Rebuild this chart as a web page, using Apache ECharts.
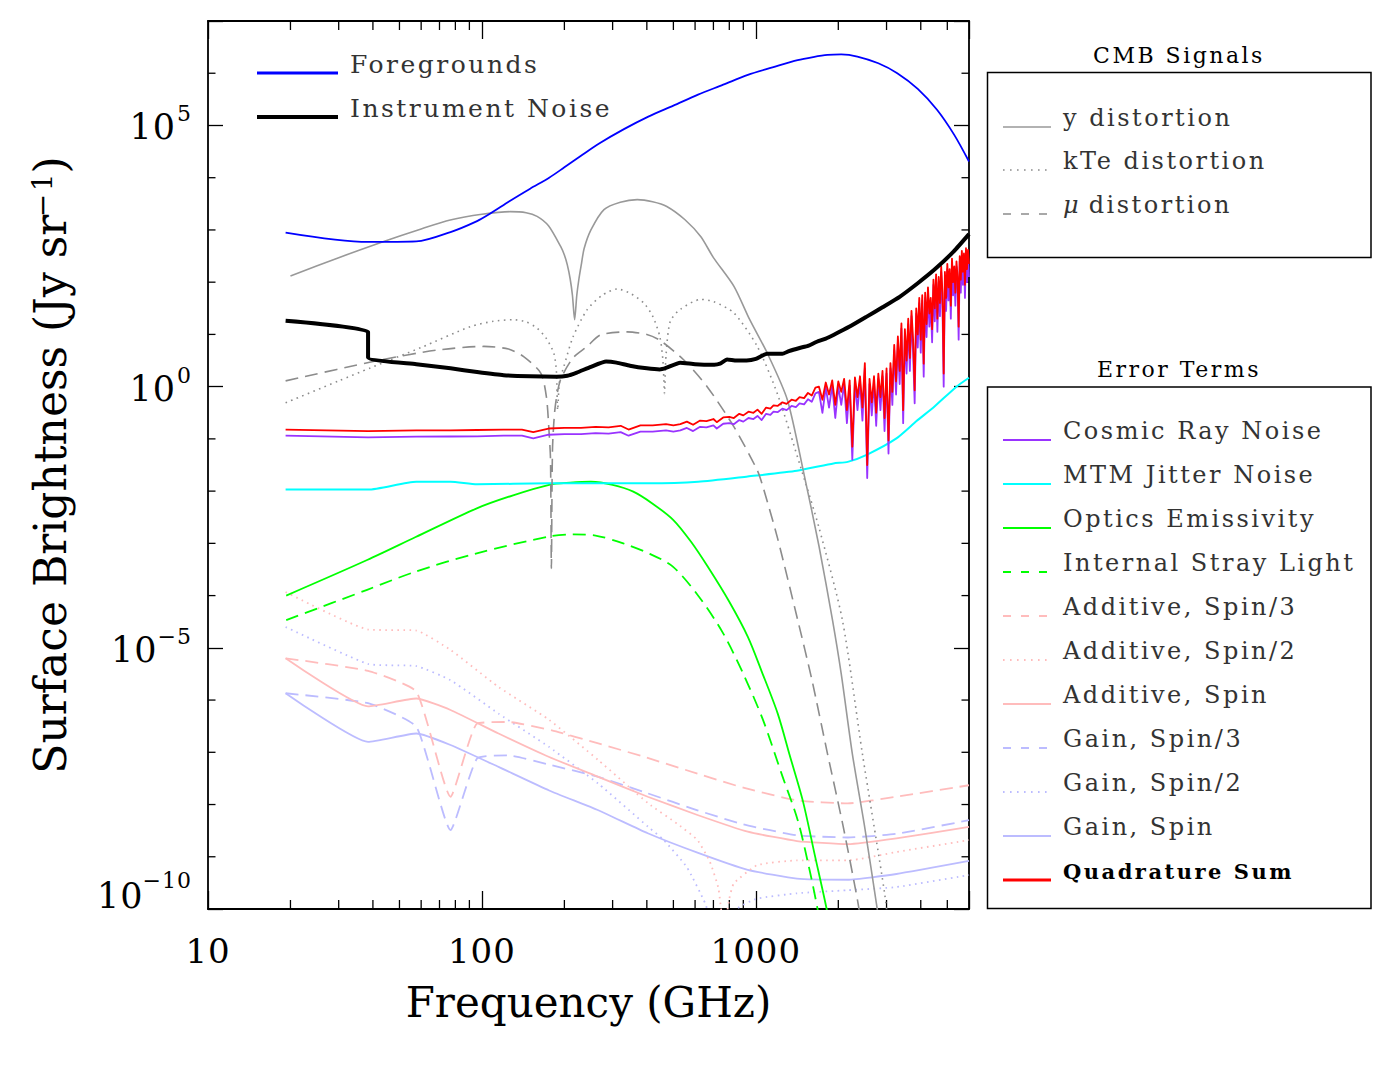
<!DOCTYPE html>
<html>
<head>
<meta charset="utf-8">
<script src="https://cdn.jsdelivr.net/npm/echarts@6/dist/echarts.min.js"></script>
<style>
html,body{margin:0;padding:0;background:#fff;}
#chart{width:1384px;height:1069px;}
</style>
</head>
<body>
<div id="chart"></div>
<script>
// ---------------- DATA ----------------
// Foregrounds
const fgFreq = [19.2,38.4,57.6,76.8,96,107,126,150,176,200,230,267,330,405,500,615,760,935,1150,1421,1620,1826,2050,2348,2800,3283,3900,4585,5300,6000];
const fgVals = [891,589,603,912,1479,2042,3548,6166,1.0e4,1.58e4,2.63e4,4.47e4,8.51e4,1.48e5,2.40e5,3.89e5,6.03e5,9.33e5,1.29e6,1.78e6,2.04e6,2.24e6,2.29e6,2.09e6,1.55e6,1.0e6,5.01e5,2.0e5,6.61e4,2.04e4];
// Instrument noise
const instFreq = [19.2,38.4,38.4,57.6,76.8,96,120,150,187,205,222,250,284,310,347,400,446,470,529,600,705,740,785,850,925,1000,1098,1250,1320,1444,1550,1670,1800,1920,2200,2540,2900,3350,3900,4490,5280,6000];
const instVals = [18.2,11.2,3.63,2.69,2.24,1.91,1.66,1.58,1.55,1.62,1.86,2.40,3.02,2.88,2.51,2.24,2.14,2.29,2.88,2.69,2.63,2.75,3.31,3.16,3.16,3.39,4.27,4.27,4.79,5.50,6.03,7.24,8.32,9.77,14.1,21.9,33.1,52.5,95.5,174,389,832];
// y distortion
const yDistFreq = [20,30,43.8,60,76.6,100,127,145,159,175,194,200,205,210,214,218,222,226,231,236,250,279,320,369,420,473,550,630,700,832,950,1101,1303,1497,1700,1905,2050,2249,2500,2773,3000];
const yDistVals = [132,295,603,1047,1549,1995,2239,2138,1820,1202,479,331,214,115,56.2,19.1,56.2,115,229,437,1000,2455,3388,3802,3467,2818,1585,741,295,83.2,19.1,4.37,0.562,0.0219,8.9e-4,3.39e-5,3.16e-6,9.55e-8,3.55e-9,1.02e-10,6.3e-12];
// kTe distortion
const kteFreq = [19.2,30,39.2,60,90.7,110,130,145,159,172,183,187,189,192,199,215,242,275,312,350,390,420,446,458,464,470,487,530,630,700,832,1012,1197,1455,1700,2070,2448,2951,3150];
const kteVals = [0.49,1.29,2.29,5.62,14.1,17.8,19.1,17.4,13.2,8.32,4.37,2.0,0.355,1.26,2.40,8.91,29.5,56.2,74.1,60.3,39.8,22.4,9.12,3.16,0.741,3.98,17.8,30.2,46.8,42.7,25.7,5.89,0.741,0.0295,2.0e-3,3.39e-5,9.5e-8,2.0e-10,1.0e-11];
// mu distortion
const muFreq = [19.2,42.6,68.5,101.5,125,142,164,172,176,178,179.3,181,185,193.6,215,242,271,339,400,446,546,664,832,1012,1062,1200,1422,1600,1825,2080,2350,2500];
const muVals = [1.29,3.24,5.01,5.89,5.25,3.76,1.82,0.631,0.126,0.0398,3.31e-4,0.0631,0.398,1.35,3.55,5.89,9.77,11.2,10.0,7.76,3.24,1.0,0.17,0.0251,0.012,1.26e-3,3.39e-5,2.51e-6,9.55e-8,3.98e-9,1.48e-10,2.0e-11];
// Quadrature sum and cosmic-ray noise (smooth part)
const sumFreqLow = [19.2,38.4,57.6,76.8,96,120,140,154,175,200,230,260,290,321,343,379,420,470,500,530,560,590,626,660,700,720,760,800,831,870,900,940,980,1014,1050,1090,1130,1160,1200,1250,1295,1350,1400,1444,1500,1550,1600,1650];
const sumLow = [0.151,0.141,0.145,0.146,0.148,0.151,0.151,0.135,0.158,0.162,0.162,0.170,0.166,0.178,0.151,0.182,0.182,0.191,0.182,0.191,0.214,0.186,0.224,0.219,0.240,0.209,0.257,0.263,0.251,0.302,0.282,0.331,0.316,0.363,0.302,0.398,0.380,0.437,0.427,0.501,0.468,0.562,0.537,0.631,0.603,0.759,0.676,0.955];
const crLow = [0.115,0.107,0.110,0.111,0.112,0.115,0.115,0.102,0.120,0.123,0.123,0.129,0.126,0.135,0.115,0.138,0.138,0.145,0.138,0.145,0.162,0.141,0.170,0.166,0.182,0.158,0.195,0.200,0.191,0.229,0.214,0.251,0.240,0.275,0.229,0.302,0.288,0.331,0.324,0.380,0.355,0.427,0.407,0.479,0.457,0.575,0.513,0.741];
// Quadrature sum and cosmic-ray noise (noisy high-frequency part)
const noisyFreq = [1700,1750,1800,1850,1900,1950,2000,2050,2100,2150,2200,2250,2300,2350,2400,2450,2500,2550,2600,2650,2700,2750,2800,2850,2900,2950,3000,3050,3100,3150,3200,3250,3300,3350,3400,3450,3500,3550,3600,3650,3700,3750,3800,3850,3900,3950,4000,4050,4100,4150,4200,4250,4300,4350,4400,4450,4500,4550,4600,4650,4700,4750,4800,4850,4900,4950,5000,5050,5100,5150,5200,5250,5300,5350,5400,5450,5500,5550,5600,5650,5700,5750,5800,5850,5900,5950,6000];
const sumNoisy = [1.00,0.562,1.20,0.708,1.32,0.447,1.26,0.794,1.41,0.355,
  1.32,0.0708,1.51,0.631,1.58,0.398,2.82,0.0316,1.41,0.501,
  1.58,0.316,1.78,0.631,2.00,0.251,2.24,0.0933,2.82,0.794,
  6.31,1.26,9.12,2.00,16.2,0.355,12.6,3.16,20.0,3.55,
  28.2,7.94,0.851,31.6,10.0,50.1,7.94,56.2,2.75,63.1,
  15.8,79.4,25.1,50.1,12.6,112,31.6,141,20.0,126,
  39.8,200,63.1,1.78,158,50.1,224,79.4,178,35.5,
  282,100,200,63.1,251,126,14.1,316,112,398,
  158,355,89.1,447,178,417,224];
const crNoisy = [0.794,0.316,0.955,0.398,1.05,0.251,1.00,0.447,1.12,0.200,
  1.05,0.0398,1.20,0.355,1.26,0.224,2.24,0.0178,1.12,0.282,
  1.26,0.178,1.41,0.355,1.58,0.141,1.78,0.0525,2.24,0.447,
  5.01,0.708,7.24,1.12,12.9,0.200,10.0,1.78,15.8,2.00,
  22.4,4.47,0.479,25.1,5.62,39.8,4.47,44.7,1.55,50.1,
  8.91,63.1,14.1,39.8,7.08,89.1,17.8,112,11.2,100,
  22.4,158,35.5,1.00,126,28.2,178,44.7,141,20.0,
  224,56.2,158,35.5,200,100,7.94,251,63.1,316,
  89.1,282,50.1,355,100,331,126];
// MTM jitter noise
const mtmFreq = [19.2,38.4,57.6,76.8,96,176,405,616,934,1412,1920,2165,2550,3260,3860,4490,5400,6000];
const mtmVals = [0.0107,0.0107,0.0151,0.0151,0.0135,0.0141,0.0141,0.0151,0.0191,0.0245,0.0339,0.0363,0.0501,0.102,0.219,0.417,1.0,1.48];
// Optics emissivity
const opticsFreq = [19.3,38.1,57.3,95.8,130,176,210,250,300,357,420,499,580,668,800,935,1050,1202,1330,1483,1640,1812,1950];
const opticsVals = [1.0e-4,4.79e-4,1.32e-3,4.68e-3,8.32e-3,0.0132,0.0145,0.0151,0.0132,9.77e-3,5.75e-3,2.82e-3,1.07e-3,3.55e-4,7.6e-5,1.62e-5,3.55e-6,5.5e-7,8.7e-8,1.2e-8,1.1e-9,1.02e-10,1.26e-11];
// Internal stray light
const strayFreq = [19.3,38.1,57.3,95.8,176,216,260,328,410,499,620,759,900,1062,1250,1422,1560,1679,1800];
const strayVals = [3.39e-5,1.29e-4,2.88e-4,6.46e-4,1.35e-3,1.48e-3,1.41e-3,1.0e-3,6.3e-4,3.55e-4,9.5e-5,1.91e-5,3.16e-6,4.17e-7,3.5e-8,5.0e-9,6.6e-10,1.02e-10,1.26e-11];
// Additive, Spin/3
const addS3Freq = [19.2,38.4,57.6,76.8,96,125,180,266,400,612,900,1413,2165,3260,6000];
const addS3Vals = [6.31e-6,3.63e-6,1.45e-6,1.41e-8,3.55e-7,3.8e-7,2.63e-7,1.48e-7,7.9e-8,3.9e-8,2.1e-8,1.2e-8,1.05e-8,1.41e-8,2.34e-8];
// Additive, Spin/2
const addS2Freq = [19.2,38.4,57.6,76.8,115,176,266,405,520,612,680,730,765,800,831,1012,1413,2165,3260,6000];
const addS2Vals = [1.17e-4,2.24e-5,2.14e-5,9.12e-6,1.78e-6,4.17e-7,7.08e-8,1.05e-8,4.17e-9,2.09e-9,7.94e-10,2.51e-10,3.98e-11,1.58e-10,3.09e-10,6.92e-10,8.51e-10,8.51e-10,1.23e-9,2.09e-9];
// Additive, Spin
const addS1Freq = [19.2,38.4,57.6,76.8,115,176,266,403,612,934,1413,2165,3260,6000];
const addS1Vals = [6.31e-6,7.59e-7,1.07e-6,6.46e-7,2.29e-7,8.13e-8,3.39e-8,1.41e-8,6.31e-9,3.02e-9,2.0e-9,1.74e-9,2.24e-9,3.72e-9];
// Gain, Spin/3
const gainS3Freq = [19.2,38.4,57.6,76.8,96,125,180,266,400,612,900,1413,2165,3260,6000];
const gainS3Vals = [1.35e-6,8.71e-7,3.09e-7,3.24e-9,7.59e-8,8.71e-8,5.62e-8,3.39e-8,1.66e-8,7.76e-9,4.17e-9,2.57e-9,2.34e-9,2.75e-9,5.01e-9];
// Gain, Spin/2
const gainS2Freq = [19.2,38.4,57.6,76.8,115,176,266,405,461,560,654,720,790,855,1012,1413,2165,3260,6000];
const gainS2Vals = [2.51e-5,4.9e-6,4.47e-6,2.4e-6,5.5e-7,1.26e-7,2.51e-8,3.72e-9,2.09e-9,6.31e-10,1.26e-10,2.51e-11,1.0e-11,1.0e-10,1.58e-10,2.0e-10,2.29e-10,2.63e-10,4.47e-10];
// Gain, Spin
const gainS1Freq = [19.2,38.4,57.6,76.8,115,176,266,403,612,934,1413,2165,3260,6000];
const gainS1Vals = [1.35e-6,1.58e-7,2.29e-7,1.38e-7,5.25e-8,1.86e-8,7.76e-9,2.82e-9,1.2e-9,5.62e-10,3.8e-10,3.63e-10,4.68e-10,8.32e-10];

// Axis ticks / labels
const xTickLabels = [10, 100, 1000];
const xMinorTicks = [20,30,40,50,60,70,80,90,200,300,400,500,600,700,800,900,2000,3000,4000,5000];
const yLabelExps = [-10, -5, 0, 5];
const yMinorTicks = [1e-9,1e-8,1e-7,1e-6,1e-4,1e-3,1e-2,1e-1,1e1,1e2,1e3,1e4,1e6];

// Legend labels
const mainLegend = ['Foregrounds', 'Instrument Noise'];
const cmbLegend = ['y distortion', 'kTe distortion', '{i|\u03bc} distortion'];
const errLegend = ['Cosmic Ray Noise','MTM Jitter Noise','Optics Emissivity','Internal Stray Light','Additive, Spin/3','Additive, Spin/2','Additive, Spin','Gain, Spin/3','Gain, Spin/2','Gain, Spin','Quadrature Sum'];

// ---------------- STYLE ----------------
const FONT = '"DejaVu Serif", serif';
const C = {
  blue:'#0000ff', black:'#000000', gray:'#999999', grayDk:'#8c8c8c', red:'#ff0000', purple:'#9933ff',
  cyan:'#00ffff', green:'#00ff00', pink:'#ffbcbc', lav:'#bcbcff'
};
const DASH = [13, 7], DOT = [1.6, 4.4];

function pairs(xs, ys) { return xs.map(function (x, i) { return [x, ys[i]]; }); }
function lineSeries(name, data, color, width, dash, smooth) {
  return {
    name: name, type: 'line', data: data, symbol: 'none', showSymbol: false, clip: true, silent: true,
    animation: false, emphasis: { disabled: true }, smooth: smooth || false,
    lineStyle: { color: color, width: width, type: dash || 'solid', cap: 'butt', join: 'round' }
  };
}

const series = [
  lineSeries('Gain, Spin', pairs(gainS1Freq, gainS1Vals), C.lav, 1.8, null, 0.15),
  lineSeries('Gain, Spin/2', pairs(gainS2Freq, gainS2Vals), C.lav, 1.8, DOT, 0.15),
  lineSeries('Gain, Spin/3', pairs(gainS3Freq, gainS3Vals), C.lav, 1.8, DASH, 0.15),
  lineSeries('Additive, Spin', pairs(addS1Freq, addS1Vals), C.pink, 1.8, null, 0.15),
  lineSeries('Additive, Spin/2', pairs(addS2Freq, addS2Vals), C.pink, 1.8, DOT, 0.15),
  lineSeries('Additive, Spin/3', pairs(addS3Freq, addS3Vals), C.pink, 1.8, DASH, 0.15),
  lineSeries('Internal Stray Light', pairs(strayFreq, strayVals), C.green, 1.8, DASH, 0.3),
  lineSeries('Optics Emissivity', pairs(opticsFreq, opticsVals), C.green, 1.8, null, 0.3),
  lineSeries('MTM Jitter Noise', pairs(mtmFreq, mtmVals), C.cyan, 2, null, 0.2),
  lineSeries('mu distortion', pairs(muFreq, muVals), C.grayDk, 1.6, DASH, 0.25),
  lineSeries('kTe distortion', pairs(kteFreq, kteVals), C.grayDk, 1.6, DOT, 0.25),
  lineSeries('y distortion', pairs(yDistFreq, yDistVals), C.gray, 1.6, null, 0.25),
  lineSeries('Cosmic Ray Noise', pairs(sumFreqLow.concat(noisyFreq), crLow.concat(crNoisy)), C.purple, 1.8),
  lineSeries('Quadrature Sum', pairs(sumFreqLow.concat(noisyFreq), sumLow.concat(sumNoisy)), C.red, 1.8),
  lineSeries('Foregrounds', pairs(fgFreq, fgVals), C.blue, 1.8, null, 0.3),
  lineSeries('Instrument Noise', pairs(instFreq, instVals), C.black, 4, null, 0.15),
  {
    type: 'custom', name: 'xminor', silent: true, clip: false, animation: false,
    data: xMinorTicks.map(function (v) { return [v, 1]; }),
    renderItem: function (params, api) {
      const cs = params.coordSys;
      const p = api.coord([api.value(0), api.value(1)]);
      const b = cs.y + cs.height;
      return { type: 'group', children: [
        { type: 'line', shape: { x1: p[0], y1: b, x2: p[0], y2: b - 9 }, style: { stroke: '#000', lineWidth: 1.3 } },
        { type: 'line', shape: { x1: p[0], y1: cs.y, x2: p[0], y2: cs.y + 9 }, style: { stroke: '#000', lineWidth: 1.3 } }
      ]};
    }
  },
  {
    type: 'custom', name: 'yminor', silent: true, clip: false, animation: false,
    data: yMinorTicks.map(function (v) { return [10, v]; }),
    renderItem: function (params, api) {
      const cs = params.coordSys;
      const p = api.coord([api.value(0), api.value(1)]);
      const r = cs.x + cs.width;
      return { type: 'group', children: [
        { type: 'line', shape: { x1: cs.x, y1: p[1], x2: cs.x + 7.5, y2: p[1] }, style: { stroke: '#000', lineWidth: 1.3 } },
        { type: 'line', shape: { x1: r, y1: p[1], x2: r - 7.5, y2: p[1] }, style: { stroke: '#000', lineWidth: 1.3 } }
      ]};
    }
  }
];

// ---------------- LEGEND GRAPHICS ----------------
const graphics = [];
function gLine(x1, y1, x2, y2, color, w, dash) {
  graphics.push({ type: 'line', silent: true, z: 100, shape: { x1: x1, y1: y1, x2: x2, y2: y2 },
    style: { stroke: color, lineWidth: w, lineDash: dash || null } });
}
function gText(x, y, text, size, color, align, weight, rich) {
  const st = { text: text, x: x, y: y, fill: color, font: (weight || 'normal') + ' ' + size + 'px ' + FONT,
    textAlign: align || 'left', textVerticalAlign: 'middle' };
  if (rich) st.rich = rich;
  graphics.push({ type: 'text', silent: true, z: 100, style: st });
}
// main legend (inside plot)
gLine(257, 73, 338, 73, C.blue, 3);
gText(350, 64, mainLegend[0], 25, '#333');
gLine(257, 117, 338, 117, C.black, 4);
gText(350, 108, mainLegend[1], 25, '#333');
// CMB signals box
gText(1179, 55, 'CMB Signals', 22, '#000', 'center');
graphics.push({ type: 'rect', silent: true, z: 100, shape: { x: 987.5, y: 72.5, width: 383.5, height: 185 },
  style: { fill: 'none', stroke: '#000', lineWidth: 1.5 } });
const cmbStyles = [[C.gray, 1.6, null], [C.grayDk, 1.6, [1.6, 5.4]], [C.grayDk, 1.6, [8, 10]]];
[118, 161, 205].forEach(function (y, i) {
  gLine(1003, y + 9, 1051, y + 9, cmbStyles[i][0], cmbStyles[i][1], cmbStyles[i][2]);
  gText(1063, y, cmbLegend[i], 24, '#333', 'left', 'normal',
    { i: { fontStyle: 'italic', fontSize: 24, fontFamily: FONT, fill: '#333' } });
});
// Error terms box
gText(1179, 369, 'Error Terms', 22, '#000', 'center');
graphics.push({ type: 'rect', silent: true, z: 100, shape: { x: 987.5, y: 387, width: 383.5, height: 521.5 },
  style: { fill: 'none', stroke: '#000', lineWidth: 1.5 } });
const errStyles = [
  [C.purple, 1.8, null], [C.cyan, 1.8, null], [C.green, 1.8, null], [C.green, 1.8, [8, 10]],
  [C.pink, 1.8, [8, 10]], [C.pink, 1.8, [1.6, 5.4]], [C.pink, 1.8, null],
  [C.lav, 1.8, [8, 10]], [C.lav, 1.8, [1.6, 5.4]], [C.lav, 1.8, null], [C.red, 3.2, null]
];
errLegend.forEach(function (t, i) {
  const y = 431 + 44 * i;
  gLine(1003, y + 9, 1051, y + 9, errStyles[i][0], errStyles[i][1], errStyles[i][2]);
  if (i === errLegend.length - 1) gText(1063, y, t, 21, '#000', 'left', 'bold');
  else gText(1063, y, t, 24, '#333');
});

// ---------------- AXES ----------------
const axisLine = { show: true, onZero: false, lineStyle: { color: '#000', width: 1.8 } };
const option = {
  backgroundColor: '#ffffff',
  animation: false,
  grid: { left: 208, top: 21, right: 415, bottom: 160, containLabel: false, outerBoundsMode: 'none' },
  xAxis: [
    {
      type: 'log', logBase: 10, min: 10, max: 6000, position: 'bottom',
      axisLine: axisLine,
      axisTick: { show: true, inside: true, length: 18, lineStyle: { color: '#000', width: 1.3 } },
      minorTick: { show: false }, splitLine: { show: false },
      axisLabel: {
        margin: 25, color: '#000', fontSize: 34, fontFamily: FONT,
        formatter: function (v) { const r = Math.round(v); return xTickLabels.indexOf(r) >= 0 ? String(r) : ''; }
      },
      name: 'Frequency (GHz)', nameLocation: 'middle', nameGap: 72,
      nameTextStyle: { fontSize: 42, fontFamily: FONT, color: '#000' }
    },
    {
      type: 'log', logBase: 10, min: 10, max: 6000, position: 'top',
      axisLine: axisLine,
      axisTick: { show: true, inside: true, length: 18, lineStyle: { color: '#000', width: 1.3 } },
      axisLabel: { show: false }, splitLine: { show: false }
    }
  ],
  yAxis: [
    {
      type: 'log', logBase: 100000, min: 1e-10, max: 1e7, position: 'left',
      axisLine: axisLine,
      axisTick: { show: true, inside: true, length: 15, lineStyle: { color: '#000', width: 1.3 } },
      minorTick: { show: false }, splitLine: { show: false },
      axisLabel: {
        margin: 16, color: '#000', fontFamily: FONT, verticalAlignMinLabel: 'bottom',
        formatter: function (v) {
          const e = Math.round(Math.log10(v));
          if (yLabelExps.indexOf(e) < 0) return '';
          const base = (e === yLabelExps[0]) ? 'bm' : 'b';
          return '{' + base + '|10}{s|' + (e < 0 ? '\u2212' : '') + Math.abs(e) + '}';
        },
        rich: {
          b: { fontSize: 35, lineHeight: 45, fontFamily: FONT, color: '#000', verticalAlign: 'top', padding: [7, 0, 0, 0] },
          bm: { fontSize: 35, lineHeight: 40, fontFamily: FONT, color: '#000', verticalAlign: 'top', padding: [9, 0, 0, 0] },
          s: { fontSize: 22, lineHeight: 22, fontFamily: FONT, color: '#000', verticalAlign: 'top', padding: [0, 0, 0, 2] }
        }
      },
      name: 'Surface Brightness (Jy sr{sup|\u22121})', nameLocation: 'middle', nameRotate: 90, nameGap: 136,
      nameTextStyle: {
        fontSize: 44, fontFamily: FONT, color: '#000',
        rich: { sup: { fontSize: 28, fontFamily: FONT, color: '#000', verticalAlign: 'top' } }
      }
    },
    {
      type: 'log', logBase: 100000, min: 1e-10, max: 1e7, position: 'right',
      axisLine: axisLine,
      axisTick: { show: true, inside: true, length: 15, lineStyle: { color: '#000', width: 1.3 } },
      axisLabel: { show: false }, splitLine: { show: false }
    }
  ],
  series: series,
  graphic: { elements: graphics }
};

const dom = document.getElementById('chart');
const chart = echarts.init(dom, null, { renderer: 'svg', width: 1384, height: 1069 });
chart.setOption(option);

// Letter spacing similar to the original typography
function applySpacing() {
  dom.querySelectorAll('text').forEach(function (t) {
    const fs = parseFloat(getComputedStyle(t).fontSize) || 12;
    let ls = 2.5;
    if (fs >= 40) ls = 0; else if (fs >= 30) ls = 1; else if (fs >= 22 && fs < 23 && /^[\u22120-9]+$/.test(t.textContent)) ls = 1;
    t.setAttribute('letter-spacing', ls + 'px');
  });
}
chart.on('finished', applySpacing);
applySpacing();
setTimeout(applySpacing, 30);
</script>
</body>
</html>
